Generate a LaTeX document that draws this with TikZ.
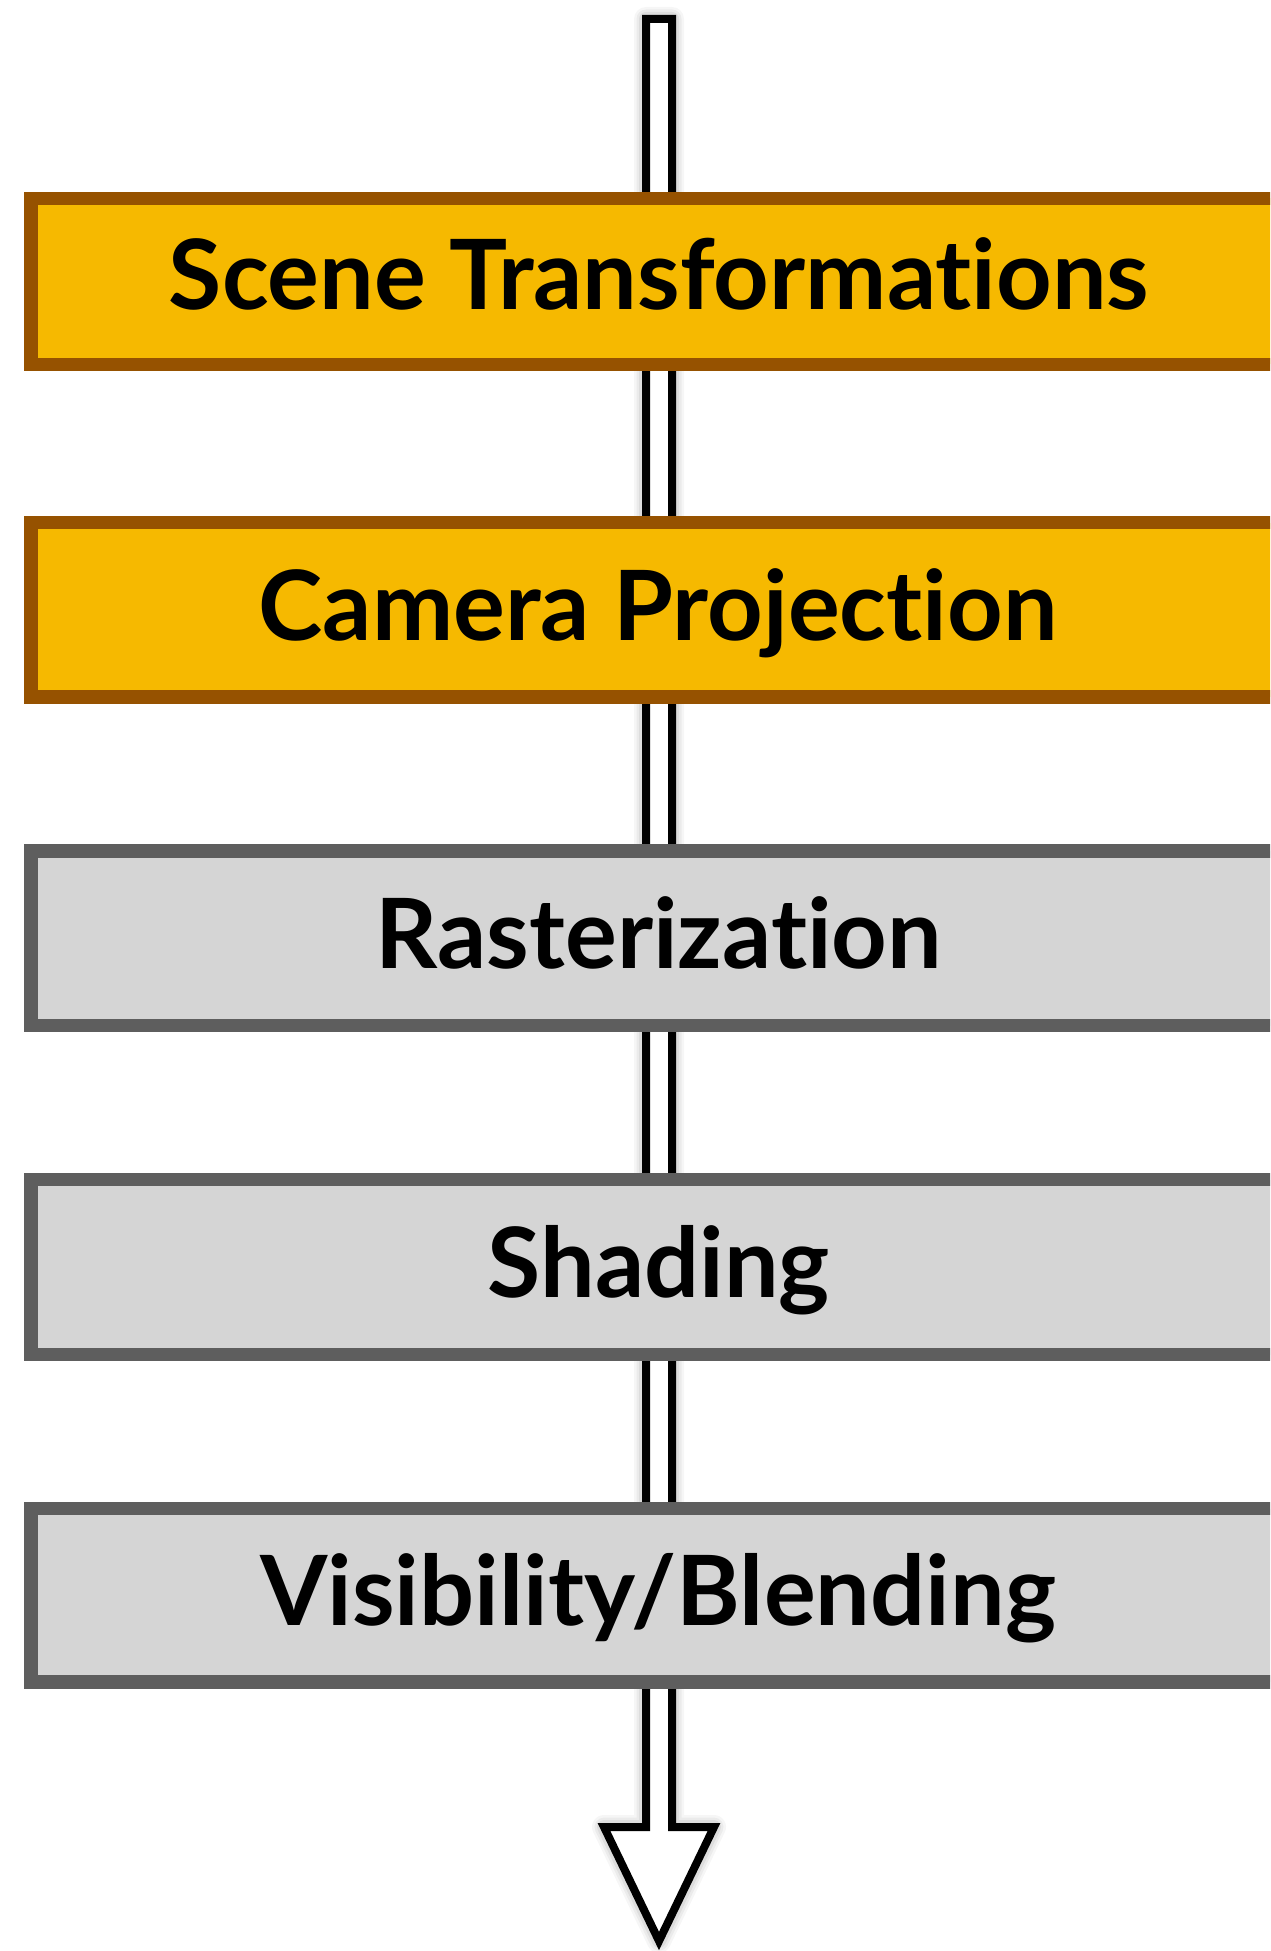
\documentclass[tikz,border=0pt]{standalone}
\usepackage{fontspec}
\setmainfont{Lato}[Ligatures=NoCommon]
\usepackage{tikz}

\definecolor{stageyellow}{RGB}{246,185,0}
\definecolor{stagebrown}{RGB}{150,82,0}
\definecolor{stagegray}{RGB}{213,213,213}
\definecolor{stagedark}{RGB}{94,94,94}

\tikzset{
  stagelabel/.style={anchor=base, inner sep=0pt,
    font=\fontsize{97}{100}\selectfont\bfseries},
  flowarrow/.style={draw=black, fill=white, line width=8pt, miter limit=10}
}

\begin{document}
\begin{tikzpicture}[x=1pt,y=-1pt]
        \clip (0,0) rectangle (1270,1951);
        \fill[white] (0,0) rectangle (1270,1951);

        % soft shadow round the arrow
        \foreach \w/\o in {24/0.035, 19/0.045, 14/0.06}
        \draw[line width=\w pt, black, opacity=\o, line join=round]
          (646,19) -- (672,19) -- (672,1827) -- (714,1827) -- (659,1941)
          -- (604,1827) -- (646,1827) -- cycle;
        \path [flowarrow]
          (646,19) -- (672,19) -- (672,1827) -- (714,1827) -- (659,1941)
          -- (604,1827) -- (646,1827) -- cycle;

        % the five stages
        \path [draw=stagebrown, fill=stageyellow, line width=13.3pt]
          (31,198.3) rectangle (1320,364.3);
        \path [draw=stagebrown, fill=stageyellow, line width=13.3pt]
          (31,522.7) rectangle (1320,697);
        \foreach \t/\b in {851/1025.5, 1179.7/1354.5, 1508.5/1682}
        \path [draw=stagedark, fill=stagegray, line width=13.3pt]
          (31,\t) rectangle (1320,\b);

        \node[stagelabel] (scene) at (659,309.5) {Scene Transformations};
        \node[stagelabel] (camera) at (658,640.5) {Camera Projection};
        \node[stagelabel] (raster) at (659,968.5) {Rasterization};
        \node[stagelabel] (shading) at (659,1297) {Shading};
        \node[stagelabel] (visibility) at (658,1625.7) {Visibility/Blending};
\end{tikzpicture}
\end{document}
